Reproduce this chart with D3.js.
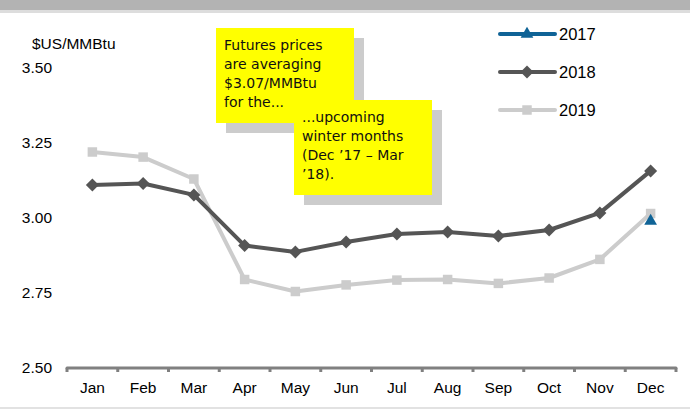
<!DOCTYPE html>
<html>
<head>
<meta charset="utf-8">
<script src="https://cdn.jsdelivr.net/npm/d3@7"></script>
<style>
  body { margin: 0; background: #fff; }
  svg { display: block; font-family: Arial, "Liberation Sans", sans-serif; }
</style>
</head>
<body>
<svg id="chart" width="690" height="413"></svg>
<script>
// Data
const months = ['Jan', 'Feb', 'Mar', 'Apr', 'May', 'Jun', 'Jul', 'Aug', 'Sep', 'Oct', 'Nov', 'Dec'];
const yTicks = [2.50, 2.75, 3.00, 3.25, 3.50];
const values2017 = [null, null, null, null, null, null, null, null, null, null, null, 2.99];
const values2018 = [3.11, 3.115, 3.077, 2.908, 2.887, 2.92, 2.947, 2.953, 2.94, 2.96, 3.017, 3.157];
const values2019 = [3.22, 3.203, 3.13, 2.795, 2.755, 2.777, 2.793, 2.795, 2.782, 2.8, 2.862, 3.015];

// diamond = square turned 45 degrees
const series = [
  { name: '2017', values: values2017, color: '#0f6396', symbol: d3.symbolTriangle, size: 70, rot: 0 },
  { name: '2018', values: values2018, color: '#555555', symbol: d3.symbolSquare, size: 85, rot: 45 },
  { name: '2019', values: values2019, color: '#cccccc', symbol: d3.symbolSquare, size: 90, rot: 0 }
];

const svg = d3.select('#chart');

// frame bands at top and bottom
svg.append('rect').attr('x', 0).attr('y', 0).attr('width', 690).attr('height', 10).attr('fill', '#b3b3b3');
svg.append('rect').attr('x', 0).attr('y', 10).attr('width', 690).attr('height', 3).attr('fill', '#dddddd');
svg.append('rect').attr('x', 0).attr('y', 407).attr('width', 690).attr('height', 2).attr('fill', '#e2e2e2');

const x = d3.scaleBand().domain(months).range([67, 676]);
const y = d3.scaleLinear().domain([2.5, 3.5]).range([368, 68]);
const cx = m => x(m) + x.bandwidth() / 2;

// y labels (no axis line)
svg.append('g').selectAll('text')
  .data(yTicks)
  .enter().append('text')
  .attr('x', 52)
  .attr('y', d => y(d))
  .attr('dy', '0.35em')
  .attr('text-anchor', 'end')
  .attr('font-size', 15.5)
  .attr('fill', '#000')
  .text(d => d.toFixed(2));

svg.append('text')
  .attr('x', 32).attr('y', 49)
  .attr('font-size', 15.5)
  .text('$US/MMBtu');

// x axis: line with ticks at band edges, labels at centres
const axisG = svg.append('g');
axisG.append('line')
  .attr('x1', x.range()[0]).attr('x2', x.range()[1])
  .attr('y1', y(2.5)).attr('y2', y(2.5))
  .attr('stroke', '#808080').attr('stroke-width', 3).attr('stroke-linecap', 'round');
axisG.selectAll('.tick-mark')
  .data(months.map(m => x(m)).concat([x.range()[1]]))
  .enter().append('line')
  .attr('class', 'tick-mark')
  .attr('x1', d => d).attr('x2', d => d)
  .attr('y1', y(2.5)).attr('y2', y(2.5) + 4)
  .attr('stroke', '#808080').attr('stroke-width', 3);
axisG.selectAll('.tick-label')
  .data(months)
  .enter().append('text')
  .attr('class', 'tick-label')
  .attr('x', d => cx(d))
  .attr('y', 393)
  .attr('text-anchor', 'middle')
  .attr('font-size', 15.5)
  .text(d => d);

// lines and markers (2019 first so 2018 sits on top)
const line = d3.line()
  .defined(d => d.v !== null)
  .x(d => cx(d.m))
  .y(d => y(d.v));

[series[2], series[1], series[0]].forEach(s => {
  const pts = months.map((m, i) => ({ m: m, v: s.values[i] }));
  svg.append('path')
    .datum(pts)
    .attr('fill', 'none')
    .attr('stroke', s.color)
    .attr('stroke-width', 4)
    .attr('stroke-linejoin', 'round')
    .attr('d', line);
  svg.append('g').selectAll('path')
    .data(pts.filter(d => d.v !== null))
    .enter().append('path')
    .attr('transform', d => 'translate(' + cx(d.m) + ',' + y(d.v) + ') rotate(' + s.rot + ')')
    .attr('d', d3.symbol().type(s.symbol).size(s.size))
    .attr('fill', s.color);
});

// legend
const legend = svg.append('g');
series.forEach((s, i) => {
  const ly = 34 + i * 38;
  legend.append('line')
    .attr('x1', 500).attr('x2', 555).attr('y1', ly).attr('y2', ly)
    .attr('stroke', s.color).attr('stroke-width', 4).attr('stroke-linecap', 'round');
  legend.append('path')
    .attr('transform', 'translate(527,' + ly + ') rotate(' + s.rot + ')')
    .attr('d', d3.symbol().type(s.symbol).size(s.size))
    .attr('fill', s.color);
  legend.append('text')
    .attr('x', 559).attr('y', ly).attr('dy', '0.35em')
    .attr('font-size', 16.5)
    .text(s.name);
});

// annotation boxes
const notes = [
  { x: 216, y: 28, w: 138, h: 95, tx: 224, lines: ['Futures prices', 'are averaging', '$3.07/MMBtu', 'for the...'] },
  { x: 294, y: 100, w: 138, h: 95, tx: 302, lines: ['...upcoming', 'winter months', '(Dec \u201917 \u2013 Mar', '\u201918).'] }
];
notes.forEach(n => {
  const g = svg.append('g');
  g.append('rect').attr('x', n.x + 10).attr('y', n.y + 10).attr('width', n.w).attr('height', n.h).attr('fill', '#cccccc');
  g.append('rect').attr('x', n.x).attr('y', n.y).attr('width', n.w).attr('height', n.h).attr('fill', '#ffff00');
  g.selectAll('text')
    .data(n.lines)
    .enter().append('text')
    .attr('x', n.tx)
    .attr('y', (d, i) => n.y + 22 + i * 19)
    .attr('font-family', '"Comic Sans MS", "DejaVu Sans", sans-serif')
    .attr('font-size', 14)
    .attr('fill', '#111')
    .text(d => d);
});
</script>
</body>
</html>
